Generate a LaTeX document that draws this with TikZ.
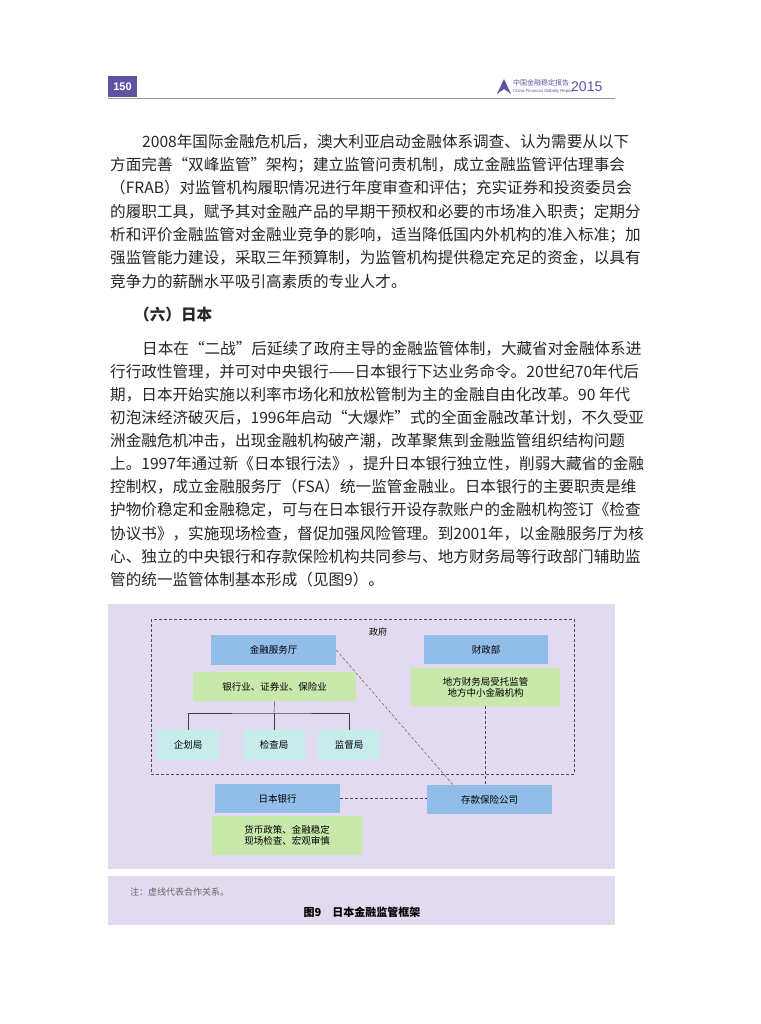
\documentclass[tikz,border=0pt]{standalone}
\usepackage{fontspec}
\setmainfont{Noto Sans CJK SC}
\newfontfamily\latinfont{Liberation Sans}
\usetikzlibrary{positioning}
\definecolor{pagepurple}{RGB}{96,82,160}
\definecolor{figbg}{RGB}{226,219,239}
\definecolor{boxblue}{RGB}{146,189,232}
\definecolor{boxgreen}{RGB}{200,232,172}
\definecolor{boxcyan}{RGB}{200,236,236}
\begin{document}
\begin{tikzpicture}[x=1pt,y=-1pt,
  bodyline/.style={anchor=west,inner sep=0pt,font=\fontsize{15.6}{16}\selectfont,text=black!85},
  bluebox/.style={fill=boxblue,inner sep=0pt,font=\fontsize{9.5}{11}\selectfont},
  greenbox/.style={fill=boxgreen,inner sep=0pt,align=center,font=\fontsize{9.5}{11}\selectfont},
  cyanbox/.style={fill=boxcyan,inner sep=0pt,font=\fontsize{9.5}{11}\selectfont},
  coop/.style={densely dashed,black!70,thin}]
\useasboundingbox (0,0) rectangle (760,1024);
\fill[white] (0,0) rectangle (760,1024);

% header
\node[fill=pagepurple,text=white,minimum width=29,minimum height=21,inner sep=0pt,font=\latinfont\bfseries\fontsize{11}{12}\selectfont] (pagenum) at (122.5,86.5) {150};
\draw[black!40,line width=0.8pt] (108,98) -- (615,98);
\fill[pagepurple] (497,94) -- (504,79) -- (511,94) -- (504,89) -- cycle;
\node[anchor=west,inner sep=0pt,text=pagepurple,font=\fontsize{7}{8}\selectfont] (rtitle) at (513,83) {中国金融稳定报告};
\node[anchor=west,inner sep=0pt,text=pagepurple,font=\latinfont\fontsize{4.3}{5}\selectfont] (rsub) at (513,91) {China Financial Stability Report};
\node[anchor=west,inner sep=0pt,text=pagepurple,font=\latinfont\fontsize{14}{15}\selectfont] (ryear) at (571,87) {2015};

% text
\node[bodyline] (p1a) at (142,142) {2008年国际金融危机后，澳大利亚启动金融体系调查、认为需要从以下};
\node[bodyline] (p1b) at (110,165) {方面完善“双峰监管”架构；建立监管问责机制，成立金融监管评估理事会};
\node[bodyline] (p1c) at (110,188) {（FRAB）对监管机构履职情况进行年度审查和评估；充实证券和投资委员会};
\node[bodyline] (p1d) at (110,212) {的履职工具，赋予其对金融产品的早期干预权和必要的市场准入职责；定期分};
\node[bodyline] (p1e) at (110,235) {析和评价金融监管对金融业竞争的影响，适当降低国内外机构的准入标准；加};
\node[bodyline] (p1f) at (110,258) {强监管能力建设，采取三年预算制，为监管机构提供稳定充足的资金，以具有};
\node[bodyline] (p1g) at (110,282) {竞争力的薪酬水平吸引高素质的专业人才。};
\node[bodyline,font=\bfseries\fontsize{15.6}{16}\selectfont] (sect) at (134,315) {（六）日本};
\node[bodyline] (p2a) at (142,349) {日本在“二战”后延续了政府主导的金融监管体制，大藏省对金融体系进};
\node[bodyline] (p2b) at (110,372) {行行政性管理，并可对中央银行——日本银行下达业务命令。20世纪70年代后};
\node[bodyline] (p2c) at (110,395) {期，日本开始实施以利率市场化和放松管制为主的金融自由化改革。90 年代};
\node[bodyline] (p2d) at (110,418) {初泡沫经济破灭后，1996年启动“大爆炸”式的全面金融改革计划，不久受亚};
\node[bodyline] (p2e) at (110,441) {洲金融危机冲击，出现金融机构破产潮，改革聚焦到金融监管组织结构问题};
\node[bodyline] (p2f) at (110,464) {上。1997年通过新《日本银行法》，提升日本银行独立性，削弱大藏省的金融};
\node[bodyline] (p2g) at (110,487) {控制权，成立金融服务厅（FSA）统一监管金融业。日本银行的主要职责是维};
\node[bodyline] (p2h) at (110,510) {护物价稳定和金融稳定，可与在日本银行开设存款账户的金融机构签订《检查};
\node[bodyline] (p2i) at (110,534) {协议书》，实施现场检查，督促加强风险管理。到2001年，以金融服务厅为核};
\node[bodyline] (p2j) at (110,557) {心、独立的中央银行和存款保险机构共同参与、地方财务局等行政部门辅助监};
\node[bodyline] (p2k) at (110,580) {管的统一监管体制基本形成（见图9）。};

% figure
\fill[figbg] (108,604) rectangle (615,869);
\fill[figbg] (108,876) rectangle (615,925);
\draw[coop] (151,619) rectangle (574,774);
\node[inner sep=0pt,font=\fontsize{9}{10}\selectfont] (gov) at (378,632) {政府};

\node[bluebox,minimum width=125,minimum height=30] (fsa) at (273.5,650) {金融服务厅};
\node[bluebox,minimum width=124,minimum height=29] (mof) at (486,649.5) {财政部};
\node[greenbox,minimum width=163,minimum height=29] (sectors) at (274.5,686.5) {银行业、证券业、保险业};
\node[greenbox,minimum width=149,minimum height=38] (local) at (485.5,687) {地方财务局受托监管\\地方中小金融机构};
\node[cyanbox,minimum width=62,minimum height=30] (plan) at (188,745) {企划局};
\node[cyanbox,minimum width=62,minimum height=30] (insp) at (274,745) {检查局};
\node[cyanbox,minimum width=62,minimum height=30] (superv) at (349,745) {监督局};
\node[bluebox,minimum width=125,minimum height=29] (boj) at (277.5,798.5) {日本银行};
\node[bluebox,minimum width=125,minimum height=29] (dic) at (489.5,799.5) {存款保险公司};
\node[greenbox,minimum width=150,minimum height=39] (bojtask) at (287,835.5) {货币政策、金融稳定\\现场检查、宏观审慎};

\coordinate (fork) at (274,713);
\draw[black!75] (sectors.south) -- (fork);
\draw[black!75] (plan.north) |- (fork) -| (superv.north);
\draw[black!75] (fork) -- (insp.north);

\draw[coop] (fsa.east) -- (dic.north -| 453,0);
\draw[coop] (local.south) -- (local.south |- dic.north);
\draw[coop] (boj.east) -- (dic.west |- boj.east);

\node[anchor=west,inner sep=0pt,text=black!60,font=\fontsize{9}{10}\selectfont] (note) at (130,892) {注：虚线代表合作关系。};
\node[inner sep=0pt,font=\bfseries\fontsize{11}{12}\selectfont] (caption) at (362,912) {图9\quad 日本金融监管框架};
\end{tikzpicture}
\end{document}
